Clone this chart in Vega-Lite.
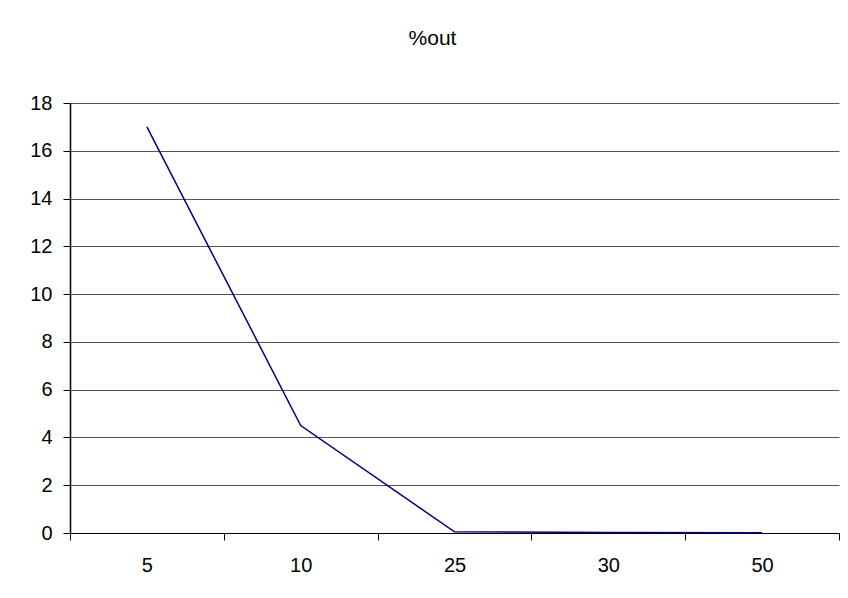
{
  "$schema": "https://vega.github.io/schema/vega-lite/v6.json",
  "autosize": {"type": "none"},
  "width": 769,
  "height": 430,
  "padding": {"left": 70, "top": 103, "right": 9, "bottom": 65},
  "background": "white",
  "title": {
    "text": "%out",
    "font": "Liberation Sans",
    "fontSize": 21,
    "fontWeight": "normal",
    "color": "black",
    "anchor": "middle",
    "offset": 44,
    "dx": -22
  },
  "data": {
    "values": [
      {"cat": "5", "value": 17.0},
      {"cat": "10", "value": 4.5},
      {"cat": "25", "value": 0.05},
      {"cat": "30", "value": 0.02},
      {"cat": "50", "value": 0.01}
    ]
  },
  "mark": {"type": "line", "color": "#000080", "strokeWidth": 1.5},
  "encoding": {
    "x": {
      "field": "cat",
      "type": "ordinal",
      "sort": null,
      "scale": {"type": "band", "paddingInner": 0, "paddingOuter": 0},
      "axis": {
        "title": null,
        "labelAngle": 0,
        "tickBand": "extent",
        "ticks": true,
        "tickSize": 7,
        "tickColor": "black",
        "domain": true,
        "domainColor": "black",
        "domainWidth": 1,
        "grid": false,
        "labelFont": "Liberation Sans",
        "labelFontSize": 20,
        "labelColor": "black",
        "labelPadding": 15
      }
    },
    "y": {
      "field": "value",
      "type": "quantitative",
      "scale": {"domain": [0, 18], "nice": false},
      "axis": {
        "title": null,
        "values": [0, 2, 4, 6, 8, 10, 12, 14, 16, 18],
        "grid": true,
        "gridColor": "#555555",
        "gridOpacity": 1,
        "tickSize": 7,
        "tickColor": "black",
        "domain": true,
        "domainColor": "black",
        "domainOpacity": 1,
        "domainWidth": 1.5,
        "labelFont": "Liberation Sans",
        "labelFontSize": 20,
        "labelColor": "black",
        "labelPadding": 11
      }
    }
  },
  "config": {"view": {"stroke": null}, "axis": {"domain": true}}
}
